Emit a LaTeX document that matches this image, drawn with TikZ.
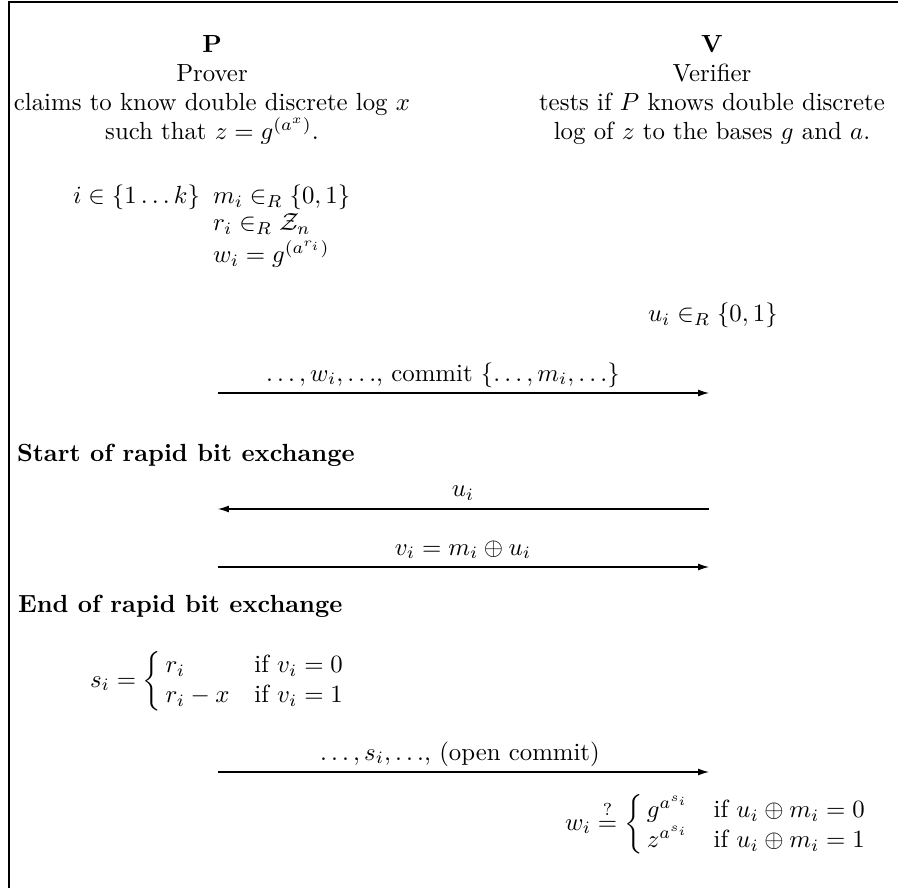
\documentclass[tikz,border=0pt]{standalone}
\usetikzlibrary{arrows.meta}
\makeatletter
\newcommand\pcases[1]{\left\{\,\vcenter{\normalbaselines\m@th
  \ialign{$##\hfil$&\quad{##}\hfil\crcr#1\crcr}}\right.}
\makeatother
\begin{document}
\begin{tikzpicture}[x=0.4032pt,y=-0.4032pt,
  txt/.style={inner sep=0pt, outer sep=0pt, anchor=base},
  txtw/.style={inner sep=0pt, outer sep=0pt, anchor=base west},
  msg/.style={line width=0.5pt, -{Latex[length=4.4pt,width=2.8pt]}},
  frameline/.style={line width=0.6pt}]
\useasboundingbox (0,0) rectangle (898,888);
\draw[frameline] (9,888) -- (9,2) -- (898,2);

% Prover header
\node[txt] (P) at (212,53) {\textbf{P}};
\node[txt] (Pname) at (212,82) {Prover};
\node[txt] (Pd1) at (212,111) {claims to know double discrete log $x$};
\node[txt] (Pd2) at (212,140) {such that $z = g^{(a^x)}$.};

% Verifier header
\node[txt] (V) at (712,53) {\textbf{V}};
\node[txt] (Vname) at (712,82) {Verifier};
\node[txt] (Vd1) at (712,111) {tests if $P$ knows double discrete};
\node[txt] (Vd2) at (712,140) {log of $z$ to the bases $g$ and $a$.};

% Prover setup
\node[txtw] (idx) at (73,204) {$i \in \{1 \ldots k\}$};
\node[txtw] (mi) at (213,204) {$m_i \in_R \{0,1\}$};
\node[txtw] (ri) at (213,231) {$r_i \in_R \mathcal{Z}_n$};
\node[txtw] (wi) at (213,263) {$w_i = g^{(a^{r_i})}$};

% Verifier setup
\node[txtw] (ui) at (648,322) {$u_i \in_R \{0,1\}$};

% message 1
\coordinate (a1s) at (218,393);
\coordinate (a1e) at (709,393);
\draw[msg] (a1s) -- (a1e);
\node[txt] (m1) at (443,381) {$\ldots, w_i, \ldots$, commit $\{\ldots, m_i, \ldots\}$};

\node[txtw] (start) at (17,462) {\textbf{Start of rapid bit exchange}};

% message 2
\coordinate (a2s) at (709,509);
\coordinate (a2e) at (218,509);
\draw[msg] (a2s) -- (a2e);
\node[txt] (m2) at (463,497) {$u_i$};

% message 3
\coordinate (a3s) at (218,567);
\coordinate (a3e) at (709,567);
\draw[msg] (a3s) -- (a3e);
\node[txt] (m3) at (463,555) {$v_i = m_i \oplus u_i$};

\node[txtw] (endx) at (18,612) {\textbf{End of rapid bit exchange}};

% response
\node[txtw] (si) at (90,687) {$s_i = \pcases{r_i & if $v_i = 0$\cr r_i - x & if $v_i = 1$}$};

% message 4
\coordinate (a4s) at (218,772);
\coordinate (a4e) at (709,772);
\draw[msg] (a4s) -- (a4e);
\node[txt] (m4) at (460,760) {$\ldots, s_i, \ldots$, (open commit)};

% check
\node[txtw] (chk) at (565,830) {$w_i \stackrel{?}{=} \pcases{g^{a^{s_i}} & if $u_i \oplus m_i = 0$\cr z^{a^{s_i}} & if $u_i \oplus m_i = 1$}$};
\end{tikzpicture}
\end{document}
